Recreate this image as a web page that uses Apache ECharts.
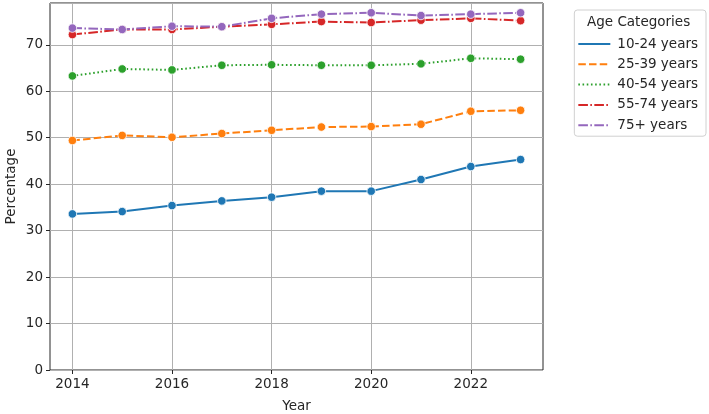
<!DOCTYPE html>
<html>
<head>
<meta charset="utf-8">
<script src="https://cdn.jsdelivr.net/npm/echarts@6/dist/echarts.min.js"></script>
<style>
  html, body { margin: 0; padding: 0; background: #fff; }
  #main { width: 709px; height: 414px; }
</style>
</head>
<body>
<div id="main"></div>
<script>
// chart data
const years = [2014, 2015, 2016, 2017, 2018, 2019, 2020, 2021, 2022, 2023];
const yearTicks = [2014, 2016, 2018, 2020, 2022];
const ageNames = ["10-24 years", "25-39 years", "40-54 years", "55-74 years", "75+ years"];
const age10to24 = [33.6, 34.1, 35.4, 36.4, 37.2, 38.5, 38.5, 41.0, 43.8, 45.3];
const age25to39 = [49.4, 50.5, 50.1, 50.9, 51.6, 52.3, 52.4, 52.9, 55.7, 55.9];
const age40to54 = [63.3, 64.8, 64.6, 65.6, 65.7, 65.6, 65.6, 65.9, 67.1, 66.9];
const age55to74 = [72.2, 73.3, 73.3, 73.9, 74.4, 75.0, 74.8, 75.3, 75.7, 75.2];
const age75plus = [73.6, 73.3, 74.0, 73.9, 75.7, 76.6, 76.9, 76.3, 76.6, 76.9];

const seriesValues = [age10to24, age25to39, age40to54, age55to74, age75plus];
const colors = ["#1f77b4", "#ff7f0e", "#2ca02c", "#d62728", "#9467bd"];
// matplotlib dash patterns, scaled for the line width
const dashes = ["solid", [7.5, 3.2], [1.6, 2.6], [9.6, 2.4, 1.6, 2.4], [9.6, 2.4, 1.6, 2.4]];

const font = "DejaVu Sans";
const textColor = "#262626";
const fs = 13.5;

const series = ageNames.map((name, i) => ({
  name: name,
  type: "line",
  data: years.map((y, j) => [y, seriesValues[i][j]]),
  symbol: "circle",
  symbolSize: 8.5,
  showSymbol: true,
  z: 2 + i,
  lineStyle: { color: colors[i], width: 2, type: dashes[i] },
  itemStyle: { color: colors[i], borderColor: "#fff", borderWidth: 0.8 },
  emphasis: { disabled: true },
}));

const option = {
  animation: false,
  textStyle: { fontFamily: font },
  grid: {
    left: 50,
    right: 166,
    top: 3,
    bottom: 44,
    outerBoundsMode: "none",
    containLabel: false,
    show: true,
    borderColor: "#262626",
    borderWidth: 1,
  },
  legend: {
    orient: "vertical",
    right: 3,
    top: 10,
    padding: [27, 8, 4, 3],
    itemGap: 6.3,
    itemWidth: 32,
    itemHeight: 12,
    backgroundColor: "#fff",
    borderColor: "#d0d0d0",
    borderWidth: 1,
    borderRadius: 3,
    textStyle: { fontSize: fs, color: textColor, fontFamily: font, padding: [0, 0, 0, 2] },
    itemStyle: { opacity: 0 },
    data: ageNames,
  },
  graphic: [
    {
      type: "text",
      left: 587,
      top: 15,
      z: 100,
      style: { text: "Age Categories", fontSize: fs, fill: textColor, fontFamily: font },
    },
  ],
  xAxis: {
    type: "value",
    min: 2013.55,
    max: 2023.45,
    name: "Year",
    nameLocation: "middle",
    nameGap: 29,
    nameTextStyle: { fontSize: fs, color: textColor },
    axisLine: { show: false },
    axisTick: { show: true, length: 4, lineStyle: { color: "#262626" }, customValues: yearTicks },
    axisLabel: {
      fontSize: fs,
      color: textColor,
      margin: 7,
      customValues: yearTicks,
      formatter: (v) => String(v),
    },
    splitLine: { show: true, lineStyle: { color: "#b0b0b0", width: 1 } },
  },
  yAxis: {
    type: "value",
    min: 0,
    max: 79,
    interval: 10,
    name: "Percentage",
    nameLocation: "middle",
    nameGap: 32,
    nameMoveOverlap: false,
    nameTextStyle: { fontSize: fs, color: textColor },
    axisLine: { show: false },
    axisTick: { show: true, length: 4, lineStyle: { color: "#262626" } },
    axisLabel: { fontSize: fs, color: textColor, margin: 7, showMaxLabel: false },
    splitLine: { show: true, lineStyle: { color: "#b0b0b0", width: 1 } },
  },
  series: series,
};

const myChart = echarts.init(document.getElementById("main"));
myChart.setOption(option);
</script>
</body>
</html>
